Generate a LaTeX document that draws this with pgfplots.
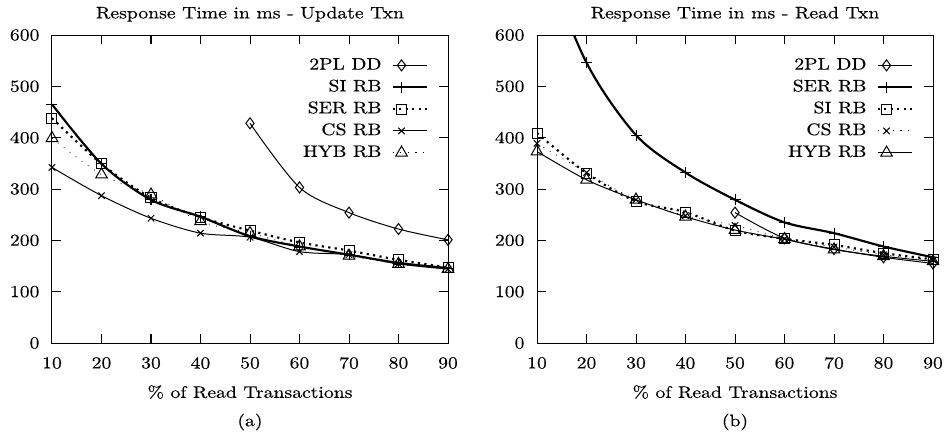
\documentclass[border=0pt]{standalone}
\usepackage{fontspec}
\setmainfont{Latin Modern Roman}[FakeStretch=1.18, FakeBold=0.4]
\usepackage{pgfplots}
\pgfplotsset{compat=1.18}
\pgfplotsset{
  myaxis/.style={
    scale only axis, width=237.6pt, height=184.8pt,
    xmin=10, xmax=90, ymin=0, ymax=600,
    xtick={10,20,...,90}, ytick={0,100,...,600},
    tick align=inside, tick pos=both, major tick length=5.5pt,
    axis line style={line width=0.6pt},
    every tick/.style={black, line width=0.6pt},
    /pgf/number format/assume math mode=true,
    font=\fontsize{10}{12}\selectfont,
    title style={font=\fontsize{10}{12}\selectfont, yshift=-1.5pt},
    yticklabel style={xshift=-4pt},
    xticklabel style={yshift=-5pt},
    xlabel style={align=center, yshift=-3pt},
    legend cell align=right, legend plot pos=right,
    legend style={draw=none, fill=none, at={(0.962,0.943)}, anchor=north east,
      row sep=2.1pt, column sep=5pt,
      nodes={inner sep=1pt, text height=7pt, text depth=2pt}},
    legend image code/.code={\draw[##1, mark indices={2}] plot coordinates {(0pt,0pt) (5.4pt,0pt) (20.4pt,0pt)};},
    every axis plot/.append style={black, smooth, mark options={solid, line width=0.6pt}},
  },
  thinsolid/.style={line width=0.6pt},
  thicksolid/.style={line width=1.3pt},
  bigdots/.style={line width=1.3pt, dash pattern=on 1.3pt off 2.6pt},
  finedots/.style={line width=0.5pt, dash pattern=on 0.5pt off 4pt},
  mdia/.style={mark=diamond, mark size=3.3pt},
  mplus/.style={mark=+, mark size=3.3pt},
  msq/.style={mark=square, mark size=3pt},
  mx/.style={mark=x, mark size=2.7pt},
  mtri/.style={mark=triangle, mark size=4pt},
}
\begin{document}
\begin{tikzpicture}
\useasboundingbox (-31.2pt,-54.6pt) rectangle (535.8pt,205.8pt);
\begin{axis}[myaxis,
  title={Response Time in ms - Update Txn},
  xlabel={\% of Read Transactions\\[5pt](a)}]
\addplot[thinsolid, mdia] coordinates {(50,428)(60,303)(70,254)(80,222)(90,201)};
\addlegendentry{2PL DD}
\addplot[thicksolid, mplus] coordinates {(10,465)(20,349)(30,279)(40,246)(50,208)(60,188)(70,172)(80,156)(90,146)};
\addlegendentry{SI RB}
\addplot[bigdots, msq] coordinates {(10,438)(20,349)(30,283)(40,245)(50,219)(60,196)(70,180)(80,162)(90,147)};
\addlegendentry{SER RB}
\addplot[thinsolid, mx] coordinates {(10,342)(20,287)(30,243)(40,214)(50,206)(60,178)(70,172)(80,154)(90,144)};
\addlegendentry{CS RB}
\addplot[finedots, mtri] coordinates {(10,399)(20,328)(30,289)(40,237)(50,214)(60,188)(70,170)(80,154)(90,144)};
\addlegendentry{HYB RB}
\end{axis}
\begin{axis}[myaxis, at={(291pt,0pt)},
  title={Response Time in ms - Read Txn},
  xlabel={\% of Read Transactions\\[5pt](b)}]
\addplot[thinsolid, mdia] coordinates {(50,254)(60,204)(70,183)(80,167)(90,155)};
\addlegendentry{2PL DD}
\addplot[thicksolid, mplus] coordinates {(10,780)(20,546)(30,405)(40,332)(50,279)(60,235)(70,214)(80,188)(90,167)};
\addlegendentry{SER RB}
\addplot[bigdots, msq] coordinates {(10,409)(20,331)(30,276)(40,255)(50,219)(60,203)(70,191)(80,175)(90,163)};
\addlegendentry{SI RB}
\addplot[finedots, mx] coordinates {(10,389)(20,332)(30,279)(40,248)(50,229)(60,203)(70,187)(80,172)(90,162)};
\addlegendentry{CS RB}
\addplot[thinsolid, mtri] coordinates {(10,373)(20,318)(30,279)(40,246)(50,220)(60,202)(70,182)(80,169)(90,159)};
\addlegendentry{HYB RB}
\end{axis}
\end{tikzpicture}
\end{document}
